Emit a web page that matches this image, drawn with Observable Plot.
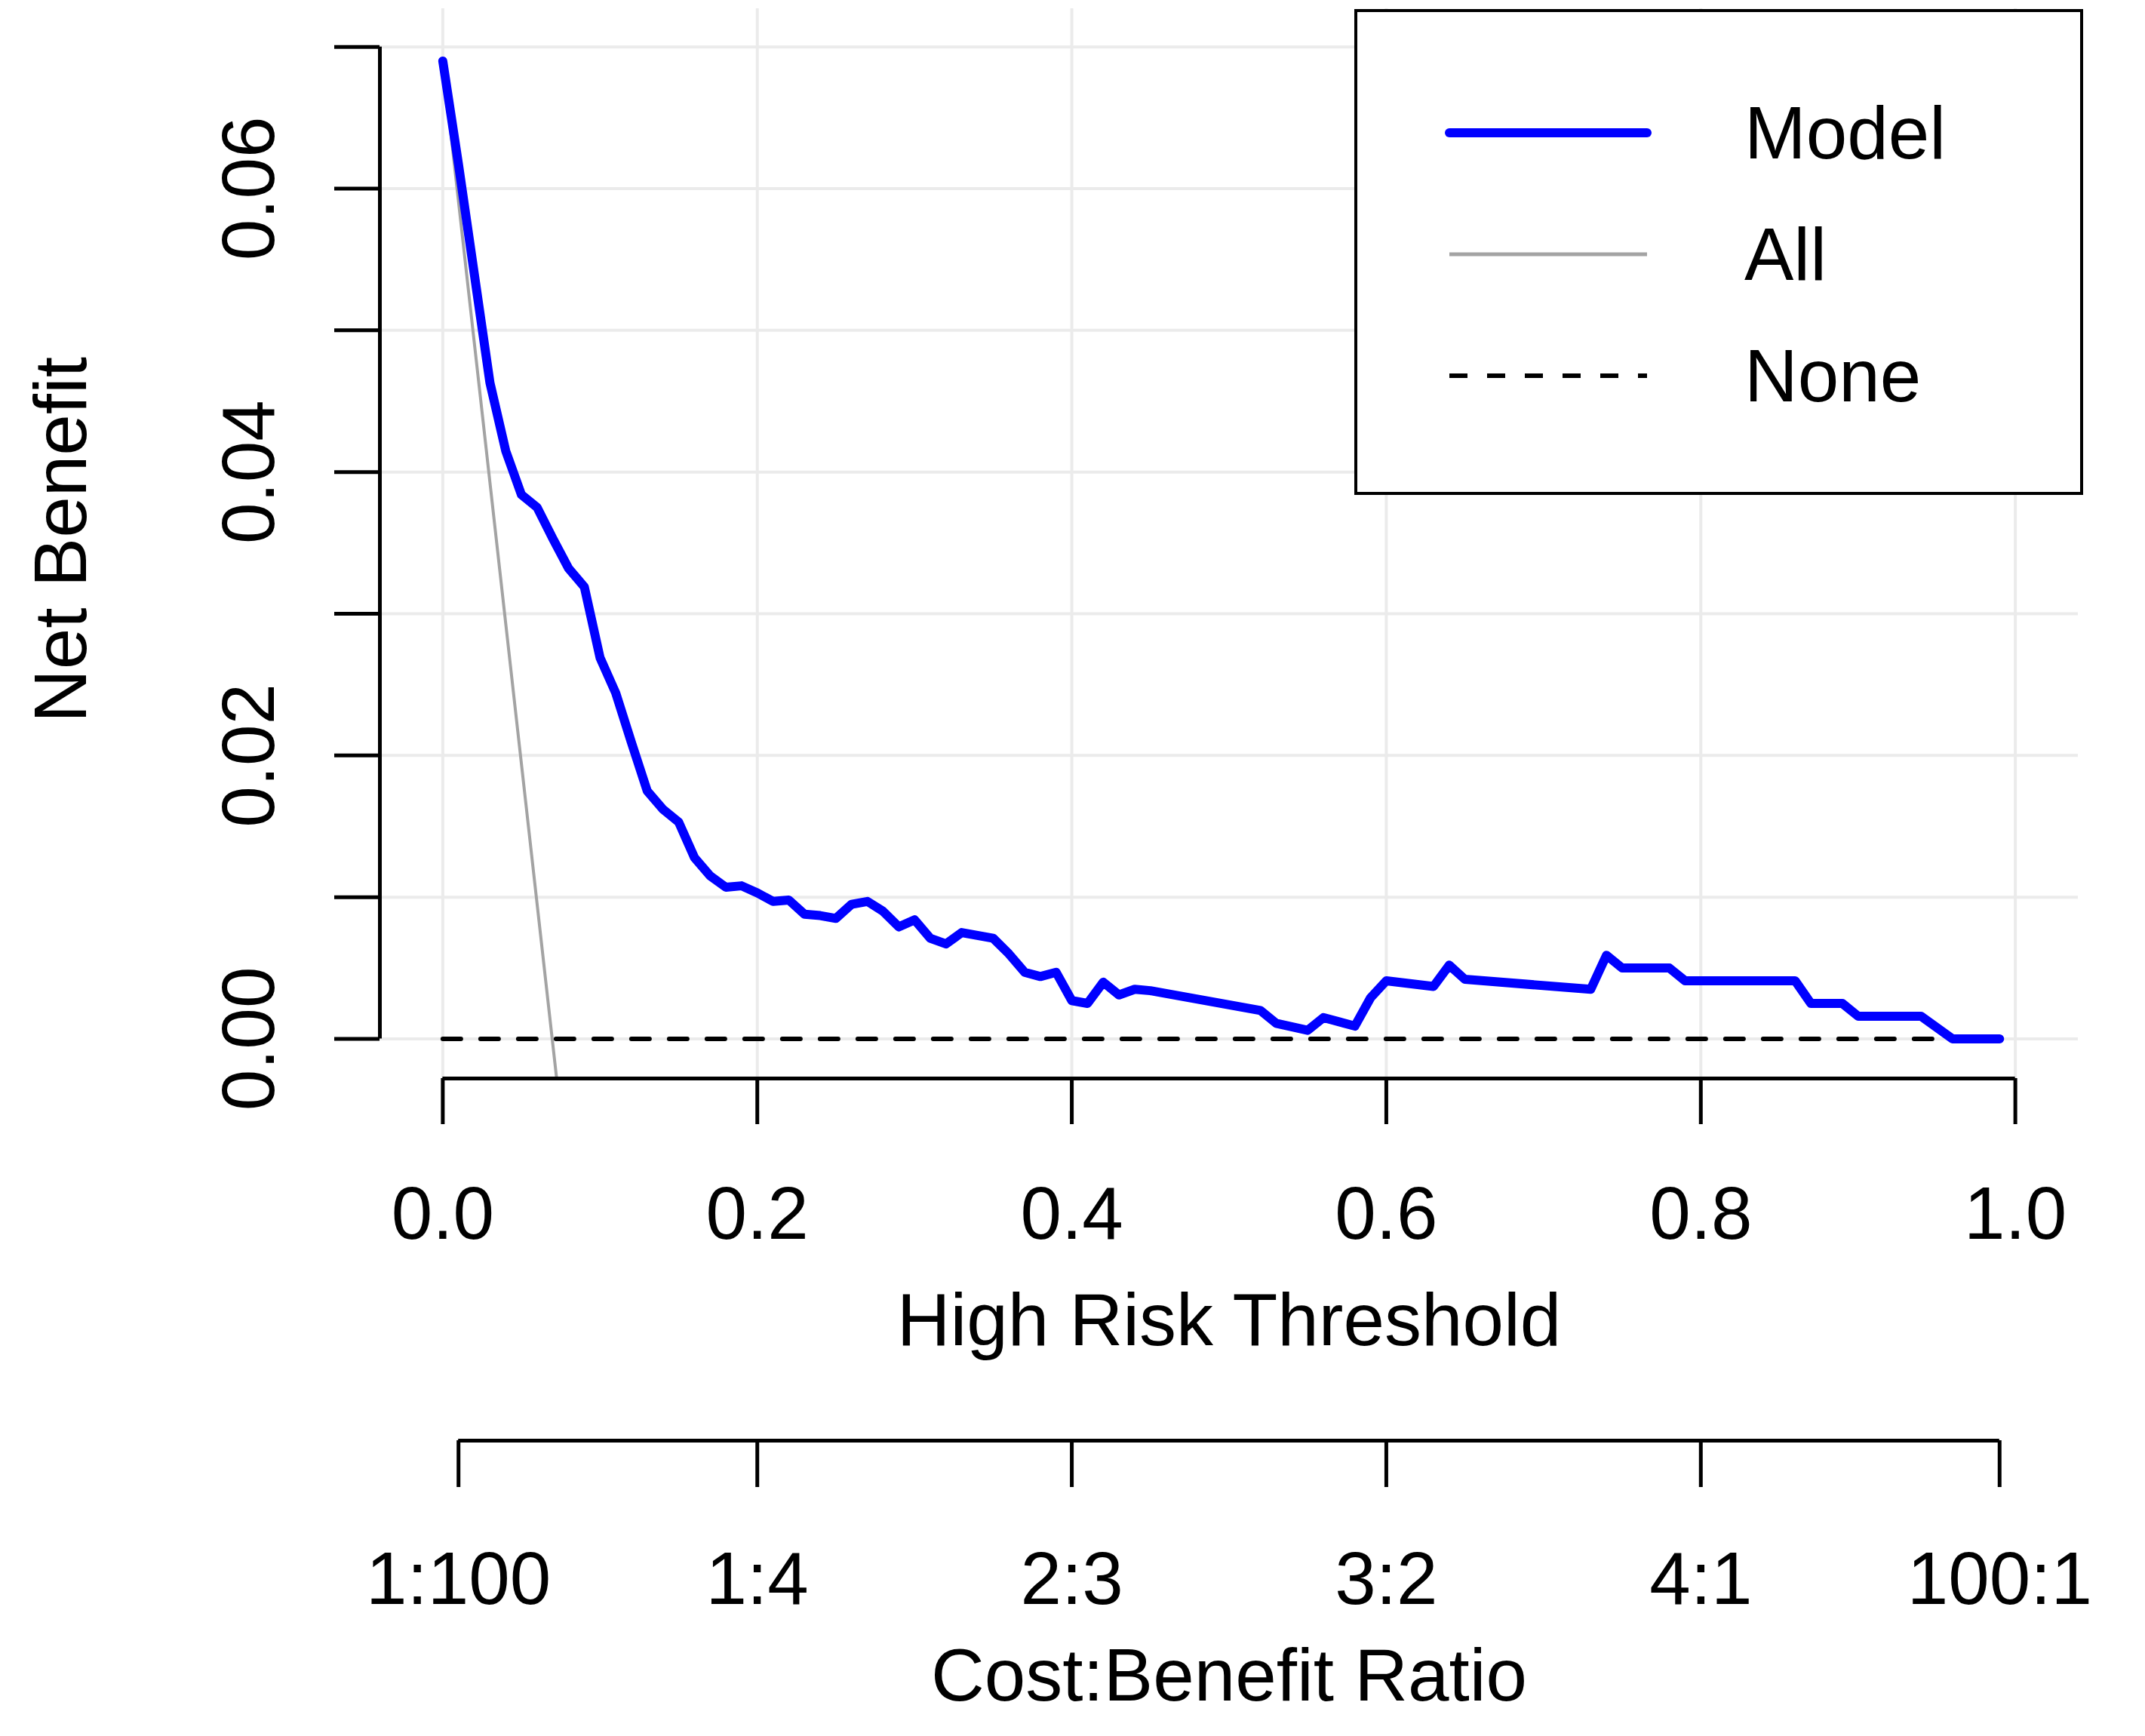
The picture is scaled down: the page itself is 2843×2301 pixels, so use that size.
<!DOCTYPE html>
<html>
<head>
<meta charset="utf-8">
<script src="https://cdn.jsdelivr.net/npm/d3@7"></script>
<script src="https://cdn.jsdelivr.net/npm/@observablehq/plot@0.6"></script>
<style>
  html, body { margin: 0; padding: 0; background: #fff; }
  #wrap { position: relative; width: 2843px; height: 2301px; font-family: "Liberation Sans", Arial, sans-serif; }
  #legend { position: absolute; left: 1795px; top: 12px; width: 958px; height: 636px; border: 4px solid #000; background: #fff; }
  #legend svg { position: absolute; left: 0; top: 0; }
</style>
</head>
<body>
<div id="wrap"></div>
<script>
// ---- data ----
const modelThreshold = [0.00,0.01,0.02,0.03,0.04,0.05,0.06,0.07,0.08,0.09,0.10,0.11,0.12,0.13,0.14,0.15,0.16,0.17,0.18,0.19,0.20,0.21,0.22,0.23,0.24,0.25,0.26,0.27,0.28,0.29,0.30,0.31,0.32,0.33,0.34,0.35,0.36,0.37,0.38,0.39,0.40,0.41,0.42,0.43,0.44,0.45,0.52,0.53,0.55,0.56,0.58,0.59,0.60,0.63,0.64,0.65,0.73,0.74,0.75,0.78,0.79,0.86,0.87,0.89,0.90,0.94,0.96,0.99];
const modelNetBenefit = [0.0690,0.0617,0.0540,0.0463,0.0415,0.0384,0.0375,0.0353,0.0332,0.0319,0.0269,0.0244,0.0209,0.0175,0.0162,0.0153,0.0128,0.0115,0.0107,0.0108,0.0103,0.0097,0.0098,0.0088,0.0087,0.0085,0.0095,0.0097,0.0090,0.0079,0.0084,0.0071,0.0067,0.0075,0.0073,0.0071,0.0060,0.0047,0.0044,0.0047,0.0027,0.0025,0.0040,0.0031,0.0035,0.0034,0.0020,0.0011,0.0006,0.0015,0.0009,0.0029,0.0041,0.0037,0.0052,0.0042,0.0035,0.0059,0.0050,0.0050,0.0041,0.0041,0.0025,0.0025,0.0016,0.0016,0.0000,0.0000];
const allThreshold = [0.0, 0.0724];
const allNetBenefit = [0.0690, -0.0028];
const noneThreshold = [0.0, 0.99];
const noneNetBenefit = [0, 0];

const xTicks = [0, 0.2, 0.4, 0.6, 0.8, 1.0];
const yTicks = [0, 0.01, 0.02, 0.03, 0.04, 0.05, 0.06, 0.07];
const yLabelTicks = [0, 0.02, 0.04, 0.06];
const cbTicks = [0.01, 0.2, 0.4, 0.6, 0.8, 0.99];
const cbLabels = ["1:100", "1:4", "2:3", "3:2", "4:1", "100:1"];
const xLabel = "High Risk Threshold";
const yLabel = "Net Benefit";
const cbLabel = "Cost:Benefit Ratio";
const legendNames = ["Model", "All", "None"];

// R-style domains (4% extension)
const xDomain = [-0.04, 1.04];
const yDomain = [-0.04 * 0.0699, 0.0699 * 1.04];

const model = modelThreshold.map((t, i) => ({t, nb: modelNetBenefit[i]}));
const all = allThreshold.map((t, i) => ({t, nb: allNetBenefit[i]}));
const none = noneThreshold.map((t, i) => ({t, nb: noneNetBenefit[i]}));

const FS = 98;
const chart = Plot.plot({
  width: 2843,
  height: 2301,
  marginLeft: 503,
  marginRight: 89,
  marginTop: 11,
  marginBottom: 872,
  style: {fontFamily: "'Liberation Sans', Arial, sans-serif", fontSize: FS + "px", color: "#000", background: "#fff"},
  x: {domain: xDomain, axis: null},
  y: {domain: yDomain, axis: null},
  marks: [
    Plot.ruleY(yTicks, {stroke: "#ebebeb", strokeWidth: 4}),
    Plot.ruleX(xTicks, {stroke: "#ebebeb", strokeWidth: 4}),
    Plot.line(none, {x: "t", y: "nb", stroke: "#000", strokeWidth: 6, strokeDasharray: "24,26"}),
    Plot.line(all, {x: "t", y: "nb", stroke: "#a3a3a3", strokeWidth: 4}),
    Plot.line(model, {x: "t", y: "nb", stroke: "#0000ff", strokeWidth: 12, strokeLinejoin: "round", strokeLinecap: "round"}),
    // y axis
    Plot.ruleX([xDomain[0]], {y1: d3.min(yTicks), y2: d3.max(yTicks), stroke: "#000", strokeWidth: 5}),
    Plot.axisY({ticks: yTicks, tickSize: 60, strokeWidth: 5, label: null, tickFormat: () => ""}),
    Plot.axisY({ticks: yLabelTicks, tickSize: 60, strokeWidth: 0, label: null, tickRotate: -90, tickPadding: 81, fontSize: FS, tickFormat: d3.format(".2f")}),
    // x axis
    Plot.ruleY([yDomain[0]], {x1: d3.min(xTicks), x2: d3.max(xTicks), stroke: "#000", strokeWidth: 5}),
    Plot.axisX({ticks: xTicks, tickSize: 61, strokeWidth: 5, label: null, tickPadding: 82, fontSize: FS, tickFormat: d3.format(".1f")}),
    // cost:benefit axis
    Plot.ruleY([yDomain[0]], {x1: d3.min(cbTicks), x2: d3.max(cbTicks), dy: 480, stroke: "#000", strokeWidth: 5}),
    Plot.axisX({ticks: cbTicks, tickSize: 62, strokeWidth: 5, label: null, tickPadding: 85, dy: 480, fontSize: FS, tickFormat: (d) => cbLabels[cbTicks.indexOf(d)]}),
    // axis titles
    Plot.text([xLabel], {frameAnchor: "bottom", dy: 322, text: d => d, fontSize: FS, textAnchor: "middle", lineAnchor: "middle"}),
    Plot.text([cbLabel], {frameAnchor: "bottom", dy: 793, text: d => d, fontSize: FS, textAnchor: "middle", lineAnchor: "middle"}),
    Plot.text([yLabel], {frameAnchor: "left", dx: -421, dy: -5, rotate: -90, text: d => d, fontSize: FS, textAnchor: "middle", lineAnchor: "middle"})
  ]
});
const wrap = document.getElementById("wrap");
wrap.appendChild(chart);

// legend overlay (inside the plot area, top-right)
const legend = document.createElement("div");
legend.id = "legend";
const styles = [
  {stroke: "#0000ff", width: 12, dash: null, cap: "round"},
  {stroke: "#a3a3a3", width: 5, dash: null, cap: "butt"},
  {stroke: "#000", width: 6, dash: "24,26", cap: "butt"}
];
const rowY = [160, 321, 482];
let svg = `<svg width="958" height="636" xmlns="http://www.w3.org/2000/svg" font-family="'Liberation Sans', Arial, sans-serif">`;
legendNames.forEach((name, i) => {
  const s = styles[i];
  svg += `<line x1="122" x2="384" y1="${rowY[i]}" y2="${rowY[i]}" stroke="${s.stroke}" stroke-width="${s.width}" stroke-linecap="${s.cap}" ${s.dash ? `stroke-dasharray="${s.dash}"` : ""}/>`;
  svg += `<text x="513" y="${rowY[i]}" dy="0.35em" font-size="${FS}" fill="#000">${name}</text>`;
});
svg += `</svg>`;
legend.innerHTML = svg;
wrap.appendChild(legend);
</script>
</body>
</html>
